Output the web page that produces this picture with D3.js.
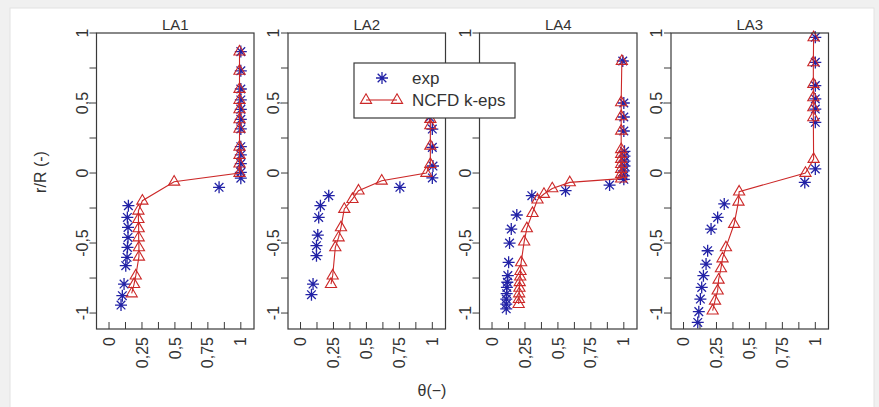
<!DOCTYPE html>
<html>
<head>
<meta charset="utf-8">
<script src="https://cdn.jsdelivr.net/npm/d3@7"></script>
<style>
  body { margin: 0; background: #f0f0f0; }
  text { font-family: "Liberation Sans", Arial, sans-serif; fill: #333; }
</style>
</head>
<body>
<script>
// panel names, in drawing order
var panels = ["LA1", "LA2", "LA4", "LA3"];

// [theta, r/R] pairs
var la1Exp = [[1.0,0.867],[1.0,0.73],[1.0,0.6],[1.0,0.522],[1.0,0.455],[1.0,0.383],[1.0,0.315],[1.0,0.188],[1.0,0.129],[1.0,0.067],[1.0,0.005],[1.0,-0.037],
  [0.835,-0.102],[0.147,-0.233],[0.139,-0.317],[0.144,-0.388],[0.144,-0.46],[0.14,-0.531],[0.137,-0.602],[0.127,-0.662],[0.114,-0.793],[0.101,-0.876],[0.091,-0.943]];
var la1Ncfd = [[0.99,0.867],[0.99,0.73],[0.99,0.6],[0.99,0.522],[0.99,0.455],[0.99,0.383],[0.99,0.315],[0.99,0.188],[0.99,0.129],[0.99,0.067],[0.99,0.0],
  [0.494,-0.062],[0.253,-0.198],[0.223,-0.269],[0.223,-0.329],[0.225,-0.395],[0.225,-0.46],[0.227,-0.531],[0.227,-0.598],[0.203,-0.733],[0.19,-0.793],[0.172,-0.86]];

var la2Exp = [[0.98,0.398],[1.0,0.314],[1.0,0.183],[1.005,0.05],[1.0,-0.035],[0.754,-0.102],[0.214,-0.162],[0.151,-0.233],[0.138,-0.317],
  [0.131,-0.443],[0.121,-0.519],[0.121,-0.59],[0.095,-0.793],[0.083,-0.869]];
var la2Ncfd = [[0.985,0.386],[0.985,0.34],[0.985,0.195],[0.985,0.064],[0.955,0.0],[0.616,-0.055],[0.44,-0.126],[0.394,-0.186],[0.332,-0.257],
  [0.307,-0.388],[0.289,-0.46],[0.264,-0.531],[0.244,-0.733],[0.231,-0.793]];

var la4Exp = [[0.992,0.8],[1.0,0.5],[1.0,0.4],[1.0,0.3],[1.005,0.155],[1.005,0.12],[1.005,0.085],[1.005,0.05],[1.0,0.015],[1.0,-0.02],[1.0,-0.045],
  [0.892,-0.086],[0.558,-0.126],[0.302,-0.162],[0.188,-0.3],[0.146,-0.4],[0.133,-0.5],[0.126,-0.638],[0.12,-0.733],[0.116,-0.78],[0.113,-0.817],
  [0.111,-0.862],[0.108,-0.9],[0.108,-0.936],[0.108,-0.97]];
var la4Ncfd = [[0.985,0.8],[0.98,0.505],[0.98,0.405],[0.98,0.302],[0.98,0.17],[0.98,0.136],[0.98,0.1],[0.98,0.064],[0.98,0.029],[0.98,-0.007],[0.98,-0.04],
  [0.59,-0.067],[0.457,-0.11],[0.394,-0.15],[0.345,-0.19],[0.307,-0.286],[0.264,-0.395],[0.244,-0.49],[0.221,-0.638],[0.216,-0.7],[0.214,-0.74],
  [0.21,-0.78],[0.208,-0.82],[0.206,-0.86],[0.204,-0.9],[0.202,-0.936]];

var la3Exp = [[1.0,0.969],[1.0,0.79],[1.0,0.624],[1.0,0.529],[1.0,0.457],[1.0,0.362],[1.0,0.029],[0.92,-0.067],[0.309,-0.221],[0.259,-0.317],
  [0.209,-0.4],[0.183,-0.555],[0.171,-0.65],[0.151,-0.733],[0.138,-0.817],[0.128,-0.9],[0.116,-0.99],[0.108,-1.067]];
var la3Ncfd = [[0.987,0.969],[0.985,0.79],[0.985,0.636],[0.985,0.54],[0.985,0.469],[0.985,0.398],[0.987,0.1],[0.925,0.0],[0.422,-0.133],
  [0.417,-0.205],[0.384,-0.364],[0.322,-0.531],[0.296,-0.61],[0.284,-0.681],[0.266,-0.762],[0.259,-0.84],[0.239,-0.912],[0.221,-0.983]];

var expSets = [la1Exp, la2Exp, la4Exp, la3Exp];
var ncfdSets = [la1Ncfd, la2Ncfd, la4Ncfd, la3Ncfd];

var xTicks = [0, 0.125, 0.25, 0.375, 0.5, 0.625, 0.75, 0.875, 1];
var xLabels = ["0", "", "0,25", "", "0,5", "", "0,75", "", "1"];
var yTicks = [-1, -0.75, -0.5, -0.25, 0, 0.25, 0.5, 0.75, 1];
var yLabels = ["-1", "", "-0,5", "", "0", "", "0,5", "", "1"];

var w = 879, h = 407;
var blue = "#2222a6", red = "#cc2828", ink = "#3a3a3a";

var svg = d3.select("body")
            .append("svg")
            .attr("width", w)
            .attr("height", h);

svg.append("rect")
   .attr("x", 10).attr("y", 8)
   .attr("width", 864).attr("height", 405)
   .attr("fill", "white")
   .attr("stroke", "#e2e2e2");

var pw = 157.5, plotTop = 33, plotBottom = 329;

var y = d3.scaleLinear().domain([-1.114, 1.0]).range([plotBottom, plotTop]);

// R-style pch 8 asterisk
function star(g, px, py) {
  var r = 6, d = r * 0.72;
  g.append("path")
   .attr("d", "M" + (px - r) + "," + py + "h" + (2 * r) +
              "M" + px + "," + (py - r) + "v" + (2 * r) +
              "M" + (px - d) + "," + (py - d) + "l" + (2 * d) + "," + (2 * d) +
              "M" + (px - d) + "," + (py + d) + "l" + (2 * d) + "," + (-2 * d))
   .attr("stroke", blue)
   .attr("stroke-width", 1.3)
   .attr("fill", "none");
}

// open triangle, pch 2
function tri(g, px, py) {
  g.append("path")
   .attr("d", "M" + px + "," + (py - 6.2) + "L" + (px + 5.6) + "," + (py + 3.4) + "L" + (px - 5.6) + "," + (py + 3.4) + "Z")
   .attr("stroke", red)
   .attr("stroke-width", 1.1)
   .attr("fill", "none");
}

panels.forEach(function(name, i) {
  var left = 96.5 + i * 191.5;
  var x = d3.scaleLinear().domain([-0.095, 1.1]).range([left, left + pw]);
  var g = svg.append("g");

  // x ticks point inward, y ticks outward
  g.selectAll(".xt").data(xTicks).enter().append("line")
   .attr("x1", function(d) { return x(d); }).attr("x2", function(d) { return x(d); })
   .attr("y1", plotBottom).attr("y2", plotBottom - 7)
   .attr("stroke", ink);
  g.selectAll(".xl").data(xTicks).enter().append("text")
   .attr("transform", function(d) { return "translate(" + x(d) + "," + (plotBottom + 8) + ") rotate(-90)"; })
   .attr("text-anchor", "end")
   .attr("dy", "0.35em")
   .style("font-size", "16px")
   .text(function(d, k) { return xLabels[k]; });

  g.selectAll(".yt").data(yTicks).enter().append("line")
   .attr("x1", left).attr("x2", left - 7)
   .attr("y1", function(d) { return y(d); }).attr("y2", function(d) { return y(d); })
   .attr("stroke", ink);
  g.selectAll(".yl").data(yTicks).enter().append("text")
   .attr("transform", function(d) { return "translate(" + (left - 9) + "," + y(d) + ") rotate(-90)"; })
   .attr("text-anchor", "middle")
   .style("font-size", "16px")
   .text(function(d, k) { return yLabels[k]; });

  expSets[i].forEach(function(p) { star(g, x(p[0]), y(p[1])); });

  var line = d3.line()
               .x(function(d) { return x(d[0]); })
               .y(function(d) { return y(d[1]); });
  g.append("path")
   .attr("d", line(ncfdSets[i]))
   .attr("fill", "none")
   .attr("stroke", red)
   .attr("stroke-width", 1.1);
  ncfdSets[i].forEach(function(p) { tri(g, x(p[0]), y(p[1])); });

  g.append("rect")
   .attr("x", left).attr("y", plotTop)
   .attr("width", pw).attr("height", plotBottom - plotTop)
   .attr("fill", "none")
   .attr("stroke", ink)
   .attr("stroke-width", 1.2);

  g.append("text")
   .attr("x", left + pw / 2).attr("y", plotTop - 3)
   .attr("text-anchor", "middle")
   .style("font-size", "15px")
   .text(name);
});

svg.append("text")
   .attr("transform", "translate(46,172) rotate(-90)")
   .attr("text-anchor", "middle")
   .style("font-size", "16px")
   .text("r/R (-)");

svg.append("text")
   .attr("x", 432).attr("y", 396)
   .attr("text-anchor", "middle")
   .style("font-size", "16px")
   .text("θ(−)");

// legend
var lg = svg.append("g");
lg.append("rect")
  .attr("x", 354).attr("y", 63)
  .attr("width", 161).attr("height", 55)
  .attr("fill", "white")
  .attr("stroke", ink)
  .attr("stroke-width", 1.2);
star(lg, 382, 78);
lg.append("line")
  .attr("x1", 366).attr("x2", 397)
  .attr("y1", 100).attr("y2", 100)
  .attr("stroke", red).attr("stroke-width", 1.1);
tri(lg, 366, 100);
tri(lg, 397, 100);
lg.append("text").attr("x", 412).attr("y", 78).attr("dy", "0.35em")
  .style("font-size", "17px").text("exp");
lg.append("text").attr("x", 412).attr("y", 100).attr("dy", "0.35em")
  .style("font-size", "17px").text("NCFD k-eps");
</script>
</body>
</html>
